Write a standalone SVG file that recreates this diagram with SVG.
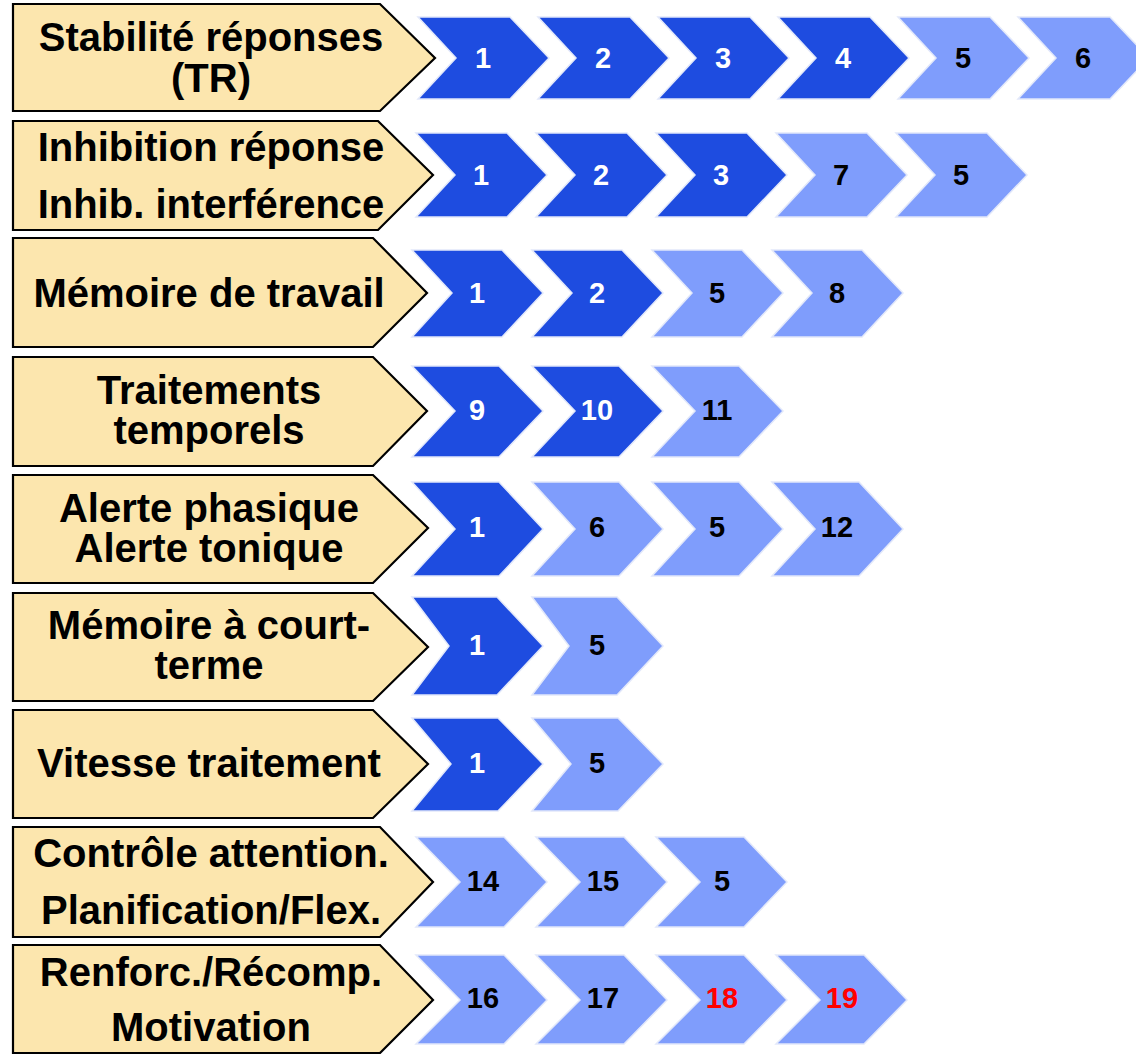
<svg xmlns="http://www.w3.org/2000/svg" width="1136" height="1054" viewBox="0 0 1136 1054">
<style>
.lbl{fill:#FCE6AE;stroke:#000;stroke-width:2.2;stroke-linejoin:miter}
.lt{font-family:"Liberation Sans",Arial,sans-serif;font-weight:bold;font-size:40px;fill:#000;text-anchor:middle;dominant-baseline:central}
.dk{fill:#1E4CE0;stroke:#E2E8FA;stroke-width:1.5}
.li{fill:#7F9DFC;stroke:#E2E8FA;stroke-width:1.5}
.n{font-family:"Liberation Sans",Arial,sans-serif;font-weight:bold;font-size:29px;text-anchor:middle;dominant-baseline:central}
.w{fill:#fff}.b{fill:#000}.r{fill:#FF0000}
</style>
<rect width="1136" height="1054" fill="#fff"/>
<g id="connectors"></g>

<g id="row1">
<polygon class="lbl" points="13,4 380,4 435,58 380,111 13,111"/>
<text class="lt" x="211" y="37">Stabilité réponses</text>
<text class="lt" x="211" y="78">(TR)</text>
<polygon class="dk" points="418,17 510,17 549,58 510,99 418,99 456,58"/>
<polygon class="dk" points="538,17 630,17 669,58 630,99 538,99 576,58"/>
<polygon class="dk" points="658,17 750,17 789,58 750,99 658,99 696,58"/>
<polygon class="dk" points="778,17 870,17 909,58 870,99 778,99 816,58"/>
<polygon class="li" points="898,17 990,17 1029,58 990,99 898,99 936,58"/>
<polygon class="li" points="1018,17 1110,17 1149,58 1110,99 1018,99 1056,58"/>
<text class="n w" x="483" y="58">1</text>
<text class="n w" x="603" y="58">2</text>
<text class="n w" x="723" y="58">3</text>
<text class="n w" x="843" y="58">4</text>
<text class="n b" x="963" y="58">5</text>
<text class="n b" x="1083" y="58">6</text>
</g>

<g id="row2">
<polygon class="lbl" points="13,121 378,121 433,175 378,230 13,230"/>
<text class="lt" x="211" y="147">Inhibition réponse</text>
<text class="lt" x="211" y="204">Inhib. interférence</text>
<polygon class="dk" points="416,133 507,133 547,175 507,217 416,217 455,175"/>
<polygon class="dk" points="536,133 627,133 667,175 627,217 536,217 575,175"/>
<polygon class="dk" points="656,133 747,133 787,175 747,217 656,217 695,175"/>
<polygon class="li" points="776,133 867,133 907,175 867,217 776,217 815,175"/>
<polygon class="li" points="896,133 987,133 1027,175 987,217 896,217 935,175"/>
<text class="n w" x="481" y="175">1</text>
<text class="n w" x="601" y="175">2</text>
<text class="n w" x="721" y="175">3</text>
<text class="n b" x="841" y="175">7</text>
<text class="n b" x="961" y="175">5</text>
</g>

<g id="row3">
<polygon class="lbl" points="13,238 373,238 427,293 373,347 13,347"/>
<text class="lt" x="209" y="293">Mémoire de travail</text>
<polygon class="dk" points="412,250 502,250 543,293 502,337 412,337 452,293"/>
<polygon class="dk" points="532,250 622,250 663,293 622,337 532,337 572,293"/>
<polygon class="li" points="652,250 742,250 783,293 742,337 652,337 692,293"/>
<polygon class="li" points="772,250 862,250 903,293 862,337 772,337 812,293"/>
<text class="n w" x="477" y="293">1</text>
<text class="n w" x="597" y="293">2</text>
<text class="n b" x="717" y="293">5</text>
<text class="n b" x="837" y="293">8</text>
</g>

<g id="row4">
<polygon class="lbl" points="13,357 373,357 427,411 373,466 13,466"/>
<text class="lt" x="209" y="390">Traitements</text>
<text class="lt" x="209" y="430">temporels</text>
<polygon class="dk" points="412,366 499,366 543,411 499,457 412,457 455,411"/>
<polygon class="dk" points="532,366 619,366 663,411 619,457 532,457 575,411"/>
<polygon class="li" points="652,366 739,366 783,411 739,457 652,457 695,411"/>
<text class="n w" x="477" y="410">9</text>
<text class="n w" x="597" y="410">10</text>
<text class="n b" x="717" y="410">11</text>
</g>

<g id="row5">
<polygon class="lbl" points="13,475 373,475 428,528 373,583 13,583"/>
<text class="lt" x="209" y="508">Alerte phasique</text>
<text class="lt" x="209" y="548">Alerte tonique</text>
<polygon class="dk" points="412,482 499,482 543,529 499,576 412,576 455,529"/>
<polygon class="li" points="532,482 619,482 663,529 619,576 532,576 575,529"/>
<polygon class="li" points="652,482 739,482 783,529 739,576 652,576 695,529"/>
<polygon class="li" points="772,482 859,482 903,529 859,576 772,576 815,529"/>
<text class="n w" x="477" y="527">1</text>
<text class="n b" x="597" y="527">6</text>
<text class="n b" x="717" y="527">5</text>
<text class="n b" x="837" y="527">12</text>
</g>

<g id="row6">
<polygon class="lbl" points="13,593 373,593 428,647 373,701 13,701"/>
<text class="lt" x="209" y="625">Mémoire à court-</text>
<text class="lt" x="209" y="665">terme</text>
<polygon class="dk" points="412,597 497,597 543,646 497,695 412,695 449,646"/>
<polygon class="li" points="532,597 617,597 663,646 617,695 532,695 569,646"/>
<text class="n w" x="477" y="645">1</text>
<text class="n b" x="597" y="645">5</text>
</g>

<g id="row7">
<polygon class="lbl" points="13,710 373,710 428,764 373,818 13,818"/>
<text class="lt" x="209" y="763">Vitesse traitement</text>
<polygon class="dk" points="412,718 498,718 543,764 498,811 412,811 451,764"/>
<polygon class="li" points="532,718 618,718 663,764 618,811 532,811 571,764"/>
<text class="n w" x="477" y="763">1</text>
<text class="n b" x="597" y="763">5</text>
</g>

<g id="row8">
<polygon class="lbl" points="13,827 380,827 433,882 380,937 13,937"/>
<text class="lt" x="211" y="853">Contrôle attention.</text>
<text class="lt" x="211" y="910">Planification/Flex.</text>
<polygon class="li" points="416,837 504,837 547,882 504,927 416,927 460,882"/>
<polygon class="li" points="536,837 624,837 667,882 624,927 536,927 580,882"/>
<polygon class="li" points="656,837 744,837 787,882 744,927 656,927 700,882"/>
<text class="n b" x="483" y="881">14</text>
<text class="n b" x="603" y="881">15</text>
<text class="n b" x="722" y="881">5</text>
</g>

<g id="row9">
<polygon class="lbl" points="13,945 380,945 433,1000 380,1053 13,1053"/>
<text class="lt" x="211" y="972">Renforc./Récomp.</text>
<text class="lt" x="211" y="1027">Motivation</text>
<polygon class="li" points="416,955 504,955 547,1000 504,1044 416,1044 460,1000"/>
<polygon class="li" points="536,955 624,955 667,1000 624,1044 536,1044 580,1000"/>
<polygon class="li" points="656,955 744,955 787,1000 744,1044 656,1044 700,1000"/>
<polygon class="li" points="776,955 864,955 907,1000 864,1044 776,1044 820,1000"/>
<text class="n b" x="483" y="998">16</text>
<text class="n b" x="603" y="998">17</text>
<text class="n r" x="722" y="998">18</text>
<text class="n r" x="842" y="998">19</text>
</g>
</svg>
